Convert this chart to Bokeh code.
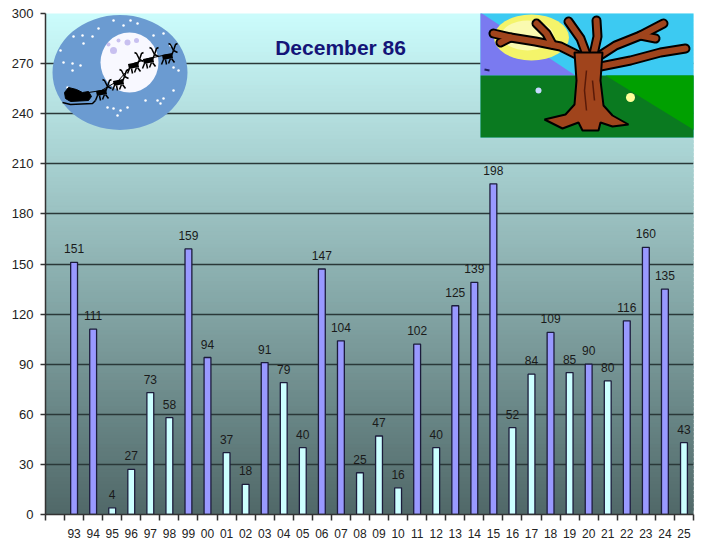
from bokeh.plotting import figure
from bokeh.models import FixedTicker, ColumnDataSource
from bokeh.core.properties import value
from bokeh.embed import file_html
from bokeh.resources import INLINE

# ---------------- data ----------------
years = ["93", "94", "95", "96", "97", "98", "99", "00", "01", "02", "03",
         "04", "05", "06", "07", "08", "09", "10", "11", "12", "13", "14",
         "15", "16", "17", "18", "19", "20", "21", "22", "23", "24", "25"]
counts = [151, 111, 4, 27, 73, 58, 159, 94, 37, 18, 91, 79, 40, 147, 104, 25,
          47, 16, 102, 40, 125, 139, 198, 52, 84, 109, 85, 90, 80, 116, 160,
          135, 43]
threshold = 86
title_text = "December  86"
y_ticks = [0, 30, 60, 90, 120, 150, 180, 210, 240, 270, 300]

# ---------------- layout constants ----------------
FONT = value("Liberation Sans")
NSLOT = len(years) + 1           # first slot is empty
FW, FH = 648, 501                # frame size in px
X0, Y1 = 45, 514                 # frame left / bottom in page px

def dx(px):
    return (px - X0) * NSLOT / FW

def dy(py):
    return (Y1 - py) * 300 / FH

def wx(w):
    return w * NSLOT / FW

def hy(h):
    return h * 300 / FH

xs = [i + 1.5 for i in range(len(years))]
colors = ["#9999ff" if v > threshold else "#ccffff" for v in counts]

p = figure(frame_width=FW, frame_height=FH, x_range=(0, NSLOT), y_range=(0, 300),
           output_backend="svg", toolbar_location=None,
           min_border_left=45, min_border_right=4, min_border_top=13,
           min_border_bottom=20)
p.background_fill_color = "white"
p.border_fill_color = "white"
p.outline_line_color = None

# ---------------- gradient background ----------------
def mix(c0, c1, t):
    return "#%02x%02x%02x" % tuple(int(round(a + (b - a) * t)) for a, b in zip(c0, c1))

bottom_c = (0x50, 0x68, 0x68)
top_c = (0xcc, 0xfc, 0xfc)
nb = 120
edges = [300 * k / nb for k in range(nb + 1)]
band_cols = [mix(bottom_c, top_c, (k + 0.5) / nb) for k in range(nb)]
p.quad(left=0, right=NSLOT, bottom=edges[:-1],
       top=[e + 300 / nb * 0.6 for e in edges[1:]],
       fill_color=band_cols, line_color=band_cols, line_width=1, level="image")

# ---------------- moon / sleigh picture ----------------
p.ellipse(x=dx(119.5), y=dy(72), width=wx(135), height=hy(115),
          fill_color="#6b9bd1", line_color=None)
p.ellipse(x=dx(129), y=dy(62), width=wx(58), height=hy(60),
          fill_color="#f8f8ff", line_color=None)
spots = [(113, 50, 7), (127, 42, 6), (136, 40, 5), (118, 40, 4), (108, 44, 4)]
p.scatter(x=[dx(a) for a, b, s in spots], y=[dy(b) for a, b, s in spots],
          size=[s for a, b, s in spots], fill_color="#c8c0f0", line_color=None)
stars = [(73, 36), (82, 35), (92, 36), (83, 43), (63, 62), (72, 63), (80, 65),
         (72, 70), (113, 20), (123, 25), (130, 20), (137, 23), (153, 35),
         (163, 33), (173, 67), (178, 70), (145, 100), (157, 100), (163, 98),
         (160, 103), (107, 107), (113, 108), (120, 110), (127, 107), (117, 115),
         (173, 90), (67, 87), (98, 28), (170, 45), (60, 50)]
p.scatter(x=[dx(a) for a, b in stars], y=[dy(b) for a, b in stars], size=2.5,
          fill_color="white", line_color=None)

# sleigh
sleigh = [(64, 92), (68, 87), (76, 89), (82, 92), (88, 91), (91, 96), (88, 100),
          (70, 101), (65, 98)]
p.patch(x=[dx(a) for a, b in sleigh], y=[dy(b) for a, b in sleigh],
        fill_color="black", line_color="black")
p.line(x=[dx(62), dx(70), dx(92), dx(95)], y=[dy(102), dy(104), dy(103), dy(100)],
       line_color="black", line_width=1.5)

deer = [(101, 91), (118, 81), (133, 64), (148, 59), (167, 55)]
segs_x, segs_y = [], []
def seg(pts):
    segs_x.append([dx(a) for a, b in pts])
    segs_y.append([dy(b) for a, b in pts])
for cx, cy in deer:
    seg([(cx - 4, cy + 4), (cx - 6, cy + 9)])
    seg([(cx - 2, cy + 4), (cx - 1, cy + 9)])
    seg([(cx + 3, cy + 3), (cx + 1, cy + 8)])
    seg([(cx + 4, cy + 3), (cx + 7, cy + 7)])
    seg([(cx + 4, cy), (cx + 6, cy - 5)])
    seg([(cx + 6, cy - 5), (cx + 10, cy - 3)])
    seg([(cx + 6, cy - 5), (cx + 3, cy - 11), (cx + 1, cy - 12)])
    seg([(cx + 6, cy - 5), (cx + 8, cy - 11), (cx + 10, cy - 12)])
p.multi_line(xs=segs_x, ys=segs_y, line_color="black", line_width=1.5)
p.multi_line(xs=[[dx(cx - 5), dx(cx + 5)] for cx, cy in deer],
             ys=[[dy(cy + 2), dy(cy)] for cx, cy in deer],
             line_color="black", line_width=5)
p.line(x=[dx(88), dx(101), dx(118), dx(133), dx(148), dx(167)],
       y=[dy(92), dy(90), dy(80), dy(63), dy(58), dy(54)],
       line_color="black", line_width=1)

# ---------------- tree picture ----------------
p.quad(left=dx(480), right=dx(699), top=dy(12), bottom=dy(137),
       fill_color="#3ccaf2", line_color=None)
def poly(pts, fill, line=None, lw=1):
    p.patch(x=[dx(a) for a, b in pts], y=[dy(b) for a, b in pts],
            fill_color=fill, line_color=line, line_width=lw)
poly([(480, 12), (480, 75), (575, 75)], "#7a7af0")
poly([(480, 75), (699, 75), (699, 137), (480, 137)], "#0a7a20")
poly([(605, 75), (699, 75), (699, 133)], "#00a000")
p.ellipse(x=dx(531), y=dy(37), width=wx(75), height=hy(46),
          fill_color="#f4f46a", line_color=None)
p.ellipse(x=dx(527), y=dy(35), width=wx(52), height=hy(30),
          fill_color="#fafab0", line_color=None)

branches = [
    [(580, 56), (560, 46), (535, 41), (510, 37), (493, 33)],
    [(552, 44), (546, 33), (536, 23)],
    [(586, 54), (580, 38), (568, 21)],
    [(593, 54), (597, 36), (596, 20)],
    [(598, 56), (615, 45), (640, 35), (663, 23)],
    [(600, 66), (630, 60), (660, 52), (685, 48)],
    [(640, 35), (655, 38)],
    [(510, 37), (500, 42)],
]
bx = [[dx(a) for a, b in br] for br in branches]
by = [[dy(b) for a, b in br] for br in branches]
p.multi_line(xs=bx, ys=by, line_color="black", line_width=10,
             line_join="round", line_cap="round")
p.multi_line(xs=bx, ys=by, line_color="#a0441c", line_width=6,
             line_join="round", line_cap="round")
trunk = [(574, 52), (602, 52), (600, 80), (603, 105), (612, 115), (628, 124),
         (612, 126), (600, 122), (598, 130), (582, 130), (578, 122), (562, 128),
         (544, 119), (565, 114), (574, 104), (576, 80)]
poly(trunk, "#a0441c", "black", 2)
p.multi_line(xs=[[dx(586), dx(584), dx(586)], [dx(592), dx(594)]],
             ys=[[dy(70), dy(90), dy(110)], [dy(80), dy(100)]],
             line_color="#5a1a08", line_width=1.5)
p.scatter(x=[dx(538)], y=[dy(90)], size=6, fill_color="#c8d8ff", line_color=None)
p.scatter(x=[dx(630)], y=[dy(97)], size=9, marker="circle",
          fill_color="#ffff99", line_color=None)
p.line(x=[dx(484), dx(489)], y=[dy(69), dy(70)], line_color="#202060", line_width=2)

# ---------------- bars ----------------
src = ColumnDataSource(dict(x=xs, top=counts, color=colors,
                            label=[str(v) for v in counts]))
p.vbar(x="x", top="top", bottom=0, width=0.36, fill_color="color",
       line_color="#1c1c3c", line_width=1.3, source=src)
p.text(x="x", y="top", text="label", source=src, text_align="center",
       text_baseline="bottom", y_offset=-9, text_font=FONT,
       text_font_size=value("12px"), text_color="#1a1a1a")

# ---------------- title ----------------
p.text(x=[dx(343)], y=[dy(47)], text=[title_text], text_align="center",
       text_baseline="middle", text_font=FONT, text_font_style="bold",
       text_font_size=value("21px"), text_color="#141478")

# ---------------- axes ----------------
p.yaxis.ticker = FixedTicker(ticks=y_ticks)
p.yaxis.major_tick_out = 5
p.yaxis.major_tick_in = 0
p.yaxis.minor_tick_line_color = None
p.yaxis.major_label_text_font = "Liberation Sans"
p.yaxis.major_label_text_font_size = "13px"
p.yaxis.major_label_text_color = "#222222"
p.yaxis.major_label_standoff = 7
p.yaxis.axis_line_color = "#333333"
p.yaxis.axis_line_width = 1.5
p.yaxis.major_tick_line_color = "#333333"
p.yaxis.major_tick_line_width = 1.5

p.xaxis.ticker = FixedTicker(ticks=xs, minor_ticks=list(range(NSLOT + 1)))
p.xaxis.major_label_overrides = {x: y for x, y in zip(xs, years)}
p.xaxis.major_tick_out = 0
p.xaxis.major_tick_in = 0
p.xaxis.minor_tick_out = 6
p.xaxis.minor_tick_in = 0
p.xaxis.minor_tick_line_color = "#333333"
p.xaxis.minor_tick_line_width = 1.5
p.xaxis.major_label_text_font = "Liberation Sans"
p.xaxis.major_label_text_font_size = "12px"
p.xaxis.major_label_text_color = "#222222"
p.xaxis.major_label_standoff = 8
p.xaxis.axis_line_color = "#333333"
p.xaxis.axis_line_width = 1.5

p.xgrid.grid_line_color = None
p.ygrid.ticker = FixedTicker(ticks=y_ticks)
p.ygrid.grid_line_color = "#2a3838"
p.ygrid.grid_line_width = 1.5

open("out.html", "w").write(file_html(p, INLINE))
